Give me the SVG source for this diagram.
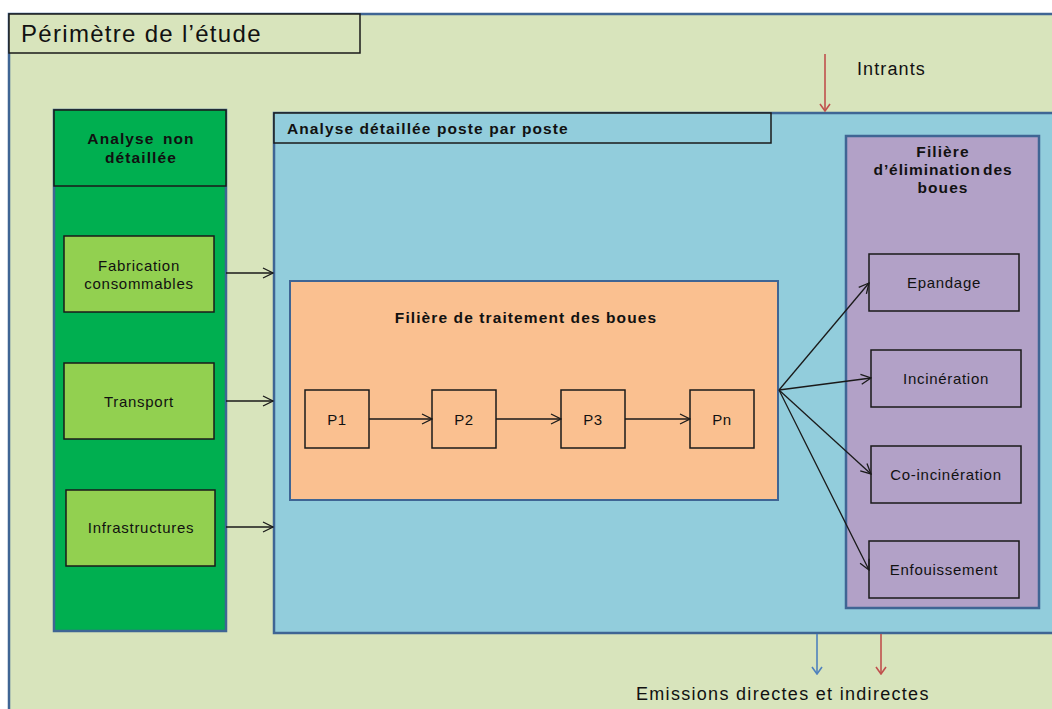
<svg xmlns="http://www.w3.org/2000/svg" width="1052" height="709" viewBox="0 0 1052 709">
<defs>
<style>
.frame{stroke:#3F6594;stroke-width:2.5}
.box{stroke:#1a1a1a;stroke-width:1.5}
.t{font-family:"Liberation Sans",Arial,sans-serif;fill:#111;text-anchor:middle}
.b{font-weight:bold;font-size:15.5px;letter-spacing:1.1px}
.n{font-size:15px;letter-spacing:0.7px}
.c{stroke:#1a1a1a;stroke-width:1.3;fill:none;marker-end:url(#ah)}
</style>
<marker id="ah" viewBox="0 0 12 12" refX="11" refY="6" markerWidth="12" markerHeight="12" markerUnits="userSpaceOnUse" orient="auto"><path d="M1,1 L11,6 L1,11" fill="none" stroke="#1a1a1a" stroke-width="1.3"/></marker>
<marker id="ahr" viewBox="0 0 12 12" refX="11" refY="6" markerWidth="12" markerHeight="12" markerUnits="userSpaceOnUse" orient="auto"><path d="M4,1 L11,6 L4,11" fill="none" stroke="#C0504D" stroke-width="1.6"/></marker>
<marker id="ahb" viewBox="0 0 12 12" refX="11" refY="6" markerWidth="12" markerHeight="12" markerUnits="userSpaceOnUse" orient="auto"><path d="M4,1 L11,6 L4,11" fill="none" stroke="#4F81BD" stroke-width="1.6"/></marker>
</defs>
<rect width="1052" height="709" fill="#ffffff"/>
<g id="perimetre">
<rect x="9" y="14" width="1060" height="720" fill="#D8E4BC" class="frame"/>
<rect x="9" y="14" width="351" height="39" fill="#D8E4BC" class="box"/>
<text x="21" y="42" class="t" style="text-anchor:start;font-size:24px;letter-spacing:1.3px">Périmètre de l’étude</text>
</g>
<g id="analyse-non-detaillee">
<rect x="54" y="110" width="172" height="521" fill="#00AF50" class="frame"/>
<rect x="54" y="110" width="172" height="76" fill="#00AF50" class="box"/>
<text x="141" y="144" class="t b" style="word-spacing:3px">Analyse non</text>
<text x="141" y="163" class="t b">détaillée</text>
</g>
<g id="fabrication">
<rect x="64" y="236" width="150" height="76" fill="#92D050" class="box"/>
<text x="139" y="271" class="t n">Fabrication</text>
<text x="139" y="289" class="t n">consommables</text>
</g>
<g id="transport">
<rect x="64" y="363" width="150" height="76" fill="#92D050" class="box"/>
<text x="139" y="407" class="t n">Transport</text>
</g>
<g id="infrastructures">
<rect x="66" y="490" width="149" height="76" fill="#92D050" class="box"/>
<text x="141" y="533" class="t n">Infrastructures</text>
</g>
<g id="analyse-detaillee">
<rect x="274" y="113" width="790" height="520" fill="#92CDDC" class="frame"/>
<rect x="274" y="113" width="497" height="30" fill="#92CDDC" class="box"/>
<text x="287" y="134" class="t b" style="text-anchor:start">Analyse détaillée poste par poste</text>
</g>
<g id="traitement">
<rect x="290" y="281" width="488" height="219" fill="#FAC090" class="frame" style="stroke-width:2"/>
<text x="526" y="323" class="t b">Filière de traitement des boues</text>
</g>
<g id="p1"><rect x="305" y="390" width="64" height="58" fill="#FAC090" class="box"/><text x="337" y="425" class="t n">P1</text></g>
<g id="p2"><rect x="432" y="390" width="64" height="58" fill="#FAC090" class="box"/><text x="464" y="425" class="t n">P2</text></g>
<g id="p3"><rect x="561" y="390" width="64" height="58" fill="#FAC090" class="box"/><text x="593" y="425" class="t n">P3</text></g>
<g id="pn"><rect x="690" y="390" width="64" height="58" fill="#FAC090" class="box"/><text x="722" y="425" class="t n">Pn</text></g>
<g id="elimination">
<rect x="846" y="136" width="193" height="472" fill="#B2A1C7" class="frame"/>
<text x="943" y="157" class="t b">Filière</text>
<text x="943" y="175" class="t b" style="letter-spacing:0.9px;word-spacing:-3px">d’élimination des</text>
<text x="943" y="193" class="t b">boues</text>
</g>
<g id="epandage"><rect x="869" y="254" width="150" height="57" fill="#B2A1C7" class="box"/><text x="944" y="288" class="t n">Epandage</text></g>
<g id="incineration"><rect x="871" y="350" width="150" height="57" fill="#B2A1C7" class="box"/><text x="946" y="384" class="t n">Incinération</text></g>
<g id="coincineration"><rect x="871" y="446" width="150" height="57" fill="#B2A1C7" class="box"/><text x="946" y="480" class="t n">Co-incinération</text></g>
<g id="enfouissement"><rect x="869" y="541" width="150" height="57" fill="#B2A1C7" class="box"/><text x="944" y="575" class="t n">Enfouissement</text></g>
<g id="labels">
<text x="857" y="75" class="t" style="text-anchor:start;font-size:18px;letter-spacing:1.1px">Intrants</text>
<text x="636" y="700" class="t" style="text-anchor:start;font-size:18px;letter-spacing:1.3px">Emissions directes et indirectes</text>
</g>
<g id="connectors">
<path class="c" d="M226,273 H273"/>
<path class="c" d="M226,401 H273"/>
<path class="c" d="M226,527 H273"/>
<path class="c" d="M369,419 H432"/>
<path class="c" d="M496,419 H561"/>
<path class="c" d="M625,419 H690"/>
<path class="c" d="M779,390 L869,283"/>
<path class="c" d="M779,390 L871,378"/>
<path class="c" d="M779,390 L871,474"/>
<path class="c" d="M779,390 L869,570"/>
<path d="M825,54 V111" stroke="#C0504D" stroke-width="1.6" fill="none" marker-end="url(#ahr)"/>
<path d="M817,634 V674" stroke="#4F81BD" stroke-width="1.6" fill="none" marker-end="url(#ahb)"/>
<path d="M881,634 V674" stroke="#C0504D" stroke-width="1.6" fill="none" marker-end="url(#ahr)"/>
</g>
</svg>
